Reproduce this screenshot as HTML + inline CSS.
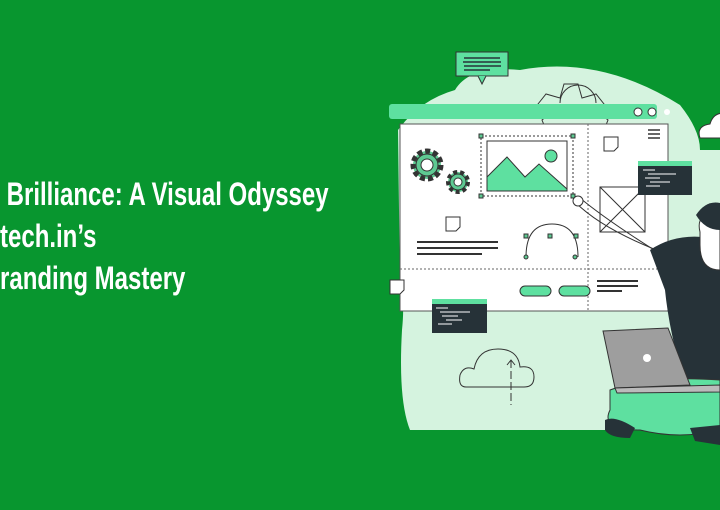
<!DOCTYPE html>
<html><head><style>
html,body{margin:0;padding:0;}
body{width:720px;height:510px;background:#08962f;position:relative;overflow:hidden;font-family:"Liberation Sans",sans-serif;}
.t{position:absolute;left:0;color:#fff;font-size:32px;font-weight:bold;white-space:nowrap;transform-origin:0 0;transform:scaleX(0.75);}
svg{position:absolute;left:0;top:0;}
</style></head><body>
<svg width="720" height="510" viewBox="0 0 720 510">
<path d="M455 90 Q470 65 520 70 Q600 55 680 105 Q700 130 700 150 L720 150 L720 430 L410 430 Q398 400 402 330 Q405 300 400 290 L398 130 Q420 100 455 90Z" fill="#d5f3df"/>
<path d="M538 104 l8 -10 l14 4 l4 -14 l14 0 l4 14 l14 -4 l8 10 l-6 8 l10 8 l-4 10 l-58 0 l-4 -10 l10 -8Z" fill="#d5f3df" stroke="#333" stroke-width="1"/>
<path d="M560 103 a18 18 0 0 1 36 0" fill="none" stroke="#333"/>
<rect x="456" y="52" width="52" height="24" fill="#5ee0a0" stroke="#333"/>
<path d="M478 76 l4 8 l4 -8" fill="#5ee0a0" stroke="#333"/>
<g stroke="#263238" stroke-width="1.5"><line x1="464" y1="58" x2="500" y2="58"/><line x1="463" y1="62" x2="501" y2="62"/><line x1="464" y1="66" x2="501" y2="66"/><line x1="464" y1="70" x2="490" y2="70"/></g>
<rect x="389" y="104" width="268" height="15" rx="3" fill="#5ee0a0"/>
<circle cx="638" cy="112" r="4" fill="#fff" stroke="#333"/><circle cx="652" cy="112" r="4" fill="#fff" stroke="#333"/><circle cx="667" cy="112" r="3" fill="#fff"/>
<path d="M700 138 q-4 -12 10 -14 q4 -14 20 -10 l0 24z" fill="#fff" stroke="#333"/>
<rect x="400" y="124" width="268" height="187" fill="#fff" stroke="#555"/>
<line x1="588" y1="124" x2="588" y2="311" stroke="#666" stroke-dasharray="2,2"/>
<line x1="400" y1="269" x2="668" y2="269" stroke="#666" stroke-dasharray="2,2"/>
<circle cx="427" cy="165" r="14" fill="#5ec992" stroke="#333" stroke-dasharray="5,3" stroke-width="5"/>
<circle cx="427" cy="165" r="11" fill="#5ec992" stroke="#333"/><circle cx="427" cy="165" r="6" fill="#fff" stroke="#333"/>
<circle cx="458" cy="182" r="10" fill="#5ec992" stroke="#333" stroke-dasharray="4,3" stroke-width="4"/>
<circle cx="458" cy="182" r="8" fill="#5ec992" stroke="#333"/><circle cx="458" cy="182" r="4" fill="#fff" stroke="#333"/>
<rect x="481" y="136" width="92" height="60" fill="none" stroke="#333" stroke-dasharray="2,2"/>
<rect x="487" y="141" width="80" height="50" fill="#fff" stroke="#333"/>
<path d="M487 177 l20 -20 l18 20 l14 -13 l28 25 l0 2 l-80 0z" fill="#5ee0a0" stroke="#333"/>
<circle cx="551" cy="156" r="6" fill="#5ee0a0" stroke="#333"/>
<g fill="#5ec992" stroke="#333"><rect x="479" y="134" width="4" height="4"/><rect x="571" y="134" width="4" height="4"/><rect x="479" y="194" width="4" height="4"/><rect x="571" y="194" width="4" height="4"/></g>
<path d="M604 137 h14 v10 l-4 4 h-10z" fill="#fff" stroke="#333"/>
<path d="M446 217 h14 v10 l-4 4 h-10z" fill="#fff" stroke="#333"/>
<path d="M390 280 h14 v10 l-4 4 h-10z" fill="#fff" stroke="#333"/>
<g stroke="#333" stroke-width="1.5"><line x1="648" y1="130" x2="660" y2="130"/><line x1="648" y1="134" x2="660" y2="134"/><line x1="648" y1="138" x2="660" y2="138"/></g>
<rect x="600" y="187" width="45" height="45" fill="#fff" stroke="#333"/>
<path d="M600 187 l45 45 M645 187 l-45 45" stroke="#333"/>
<rect x="638" y="161" width="54" height="34" fill="#263238"/><rect x="638" y="161" width="54" height="5" fill="#5ee0a0"/>
<g stroke="#fff" stroke-width="1"><line x1="643" y1="170" x2="655" y2="170"/><line x1="648" y1="174" x2="676" y2="174"/><line x1="645" y1="178" x2="660" y2="178"/><line x1="650" y1="182" x2="670" y2="182"/><line x1="646" y1="186" x2="660" y2="186"/></g>
<rect x="432" y="299" width="55" height="34" fill="#263238"/><rect x="432" y="299" width="55" height="5" fill="#5ee0a0"/>
<g stroke="#fff" stroke-width="1"><line x1="436" y1="308" x2="448" y2="308"/><line x1="440" y1="312" x2="470" y2="312"/><line x1="442" y1="316" x2="458" y2="316"/><line x1="446" y1="320" x2="462" y2="320"/><line x1="438" y1="324" x2="452" y2="324"/></g>
<g stroke="#333" stroke-width="2"><line x1="417" y1="242" x2="498" y2="242"/><line x1="417" y1="248" x2="498" y2="248"/><line x1="417" y1="254" x2="482" y2="254"/>
<line x1="597" y1="281" x2="638" y2="281"/><line x1="597" y1="286" x2="638" y2="286"/><line x1="597" y1="291" x2="622" y2="291"/></g>
<path d="M526 257 q0 -33 26 -33 q26 0 26 33" fill="none" stroke="#333"/>
<g fill="#5ec992" stroke="#333"><rect x="524" y="234" width="4" height="4"/><rect x="548" y="234" width="4" height="4"/><rect x="574" y="234" width="4" height="4"/><circle cx="526" cy="257" r="2"/><circle cx="575" cy="257" r="2"/></g>
<rect x="520" y="286" width="31" height="10" rx="5" fill="#5ee0a0" stroke="#333"/>
<rect x="559" y="286" width="31" height="10" rx="5" fill="#5ee0a0" stroke="#333"/>
<path d="M466 387 q-8 0 -6 -12 q4 -10 14 -6 q4 -20 24 -20 q20 0 22 18 q14 -2 14 10 q0 10 -10 10z" fill="none" stroke="#333"/>
<line x1="511" y1="360" x2="511" y2="405" stroke="#333" stroke-dasharray="8,3"/>
<path d="M507 365 l4 -5 l4 5" fill="none" stroke="#333"/>
<path d="M575 202 q30 30 100 55" fill="none" stroke="#333" stroke-width="1"/>
<path d="M580 198 q30 25 95 65" fill="none" stroke="#333" stroke-width="1"/>
<ellipse cx="578" cy="201" rx="5" ry="5" fill="#fff" stroke="#333"/>
<path d="M650 250 q30 -20 70 -10 L720 400 L690 400 Q670 340 665 290Z" fill="#263238"/>
<path d="M700 232 q-5 -20 20 -20 L720 270 q-20 0 -20 -25z" fill="#fff" stroke="#333"/>
<path d="M696 215 q10 -15 24 -12 L720 230 q-15 0 -24 -15z" fill="#263238"/>
<path d="M610 390 q40 -15 110 -10 L720 430 q-40 10 -80 0 q-40 0 -30 -20z" fill="#5ee0a0" stroke="#333"/>
<path d="M605 420 q10 -5 30 8 l-5 10 q-20 0 -25 -8z" fill="#263238"/>
<path d="M690 428 l30 -3 l0 20 l-25 -4z" fill="#263238"/>
<path d="M603 331 L668 328 L690 385 L615 388Z" fill="#9e9e9e" stroke="#333"/>
<path d="M615 388 L720 385 L720 392 L617 393Z" fill="#bbb" stroke="#333"/>
<circle cx="647" cy="358" r="4" fill="#fff"/>
</svg>
<div class="t" style="top:176px;">&nbsp;Brilliance: A Visual Odyssey</div>
<div class="t" style="top:218px;">tech.in’s</div>
<div class="t" style="top:260px;">randing Mastery</div>
</body></html>
